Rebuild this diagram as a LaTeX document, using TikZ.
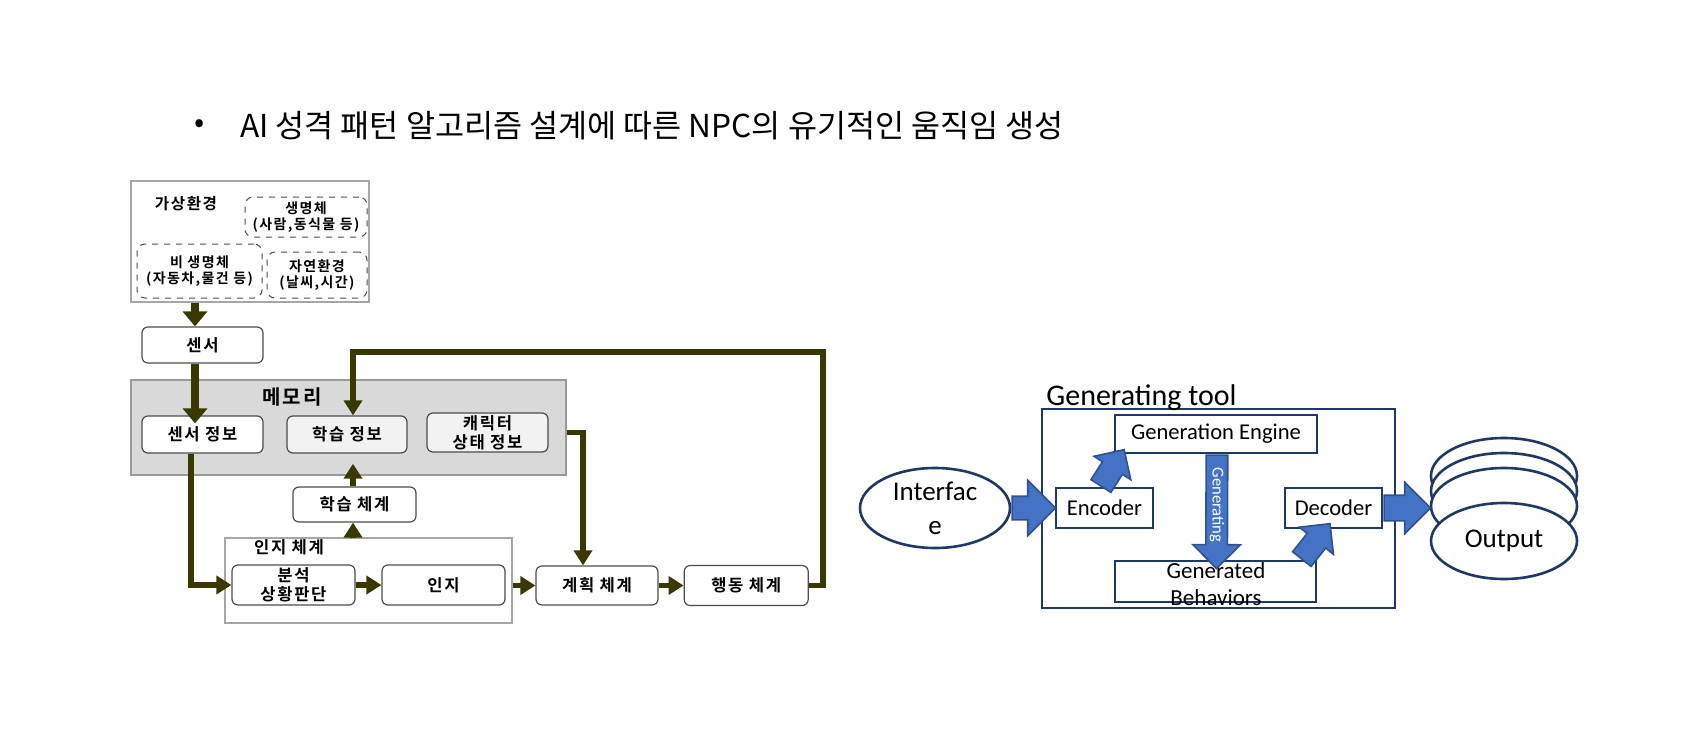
\documentclass[tikz,border=0pt]{standalone}
\usepackage{fontspec}
\setmainfont{Carlito}
\newfontfamily\krfont{Noto Sans CJK KR}[BoldFont={Noto Sans CJK KR Bold}]
\newfontfamily\krwide{Noto Sans CJK KR}[BoldFont={Noto Sans CJK KR Bold}, LetterSpace=10]
\usetikzlibrary{arrows.meta,positioning,shapes.geometric,shapes.arrows,calc}
\definecolor{olivedark}{RGB}{56,56,0}
\definecolor{navy}{RGB}{31,56,100}
\definecolor{blockblue}{RGB}{68,114,196}
\definecolor{blockedge}{RGB}{47,82,143}
\definecolor{memgray}{RGB}{217,217,217}
\definecolor{palegray}{RGB}{242,242,242}
% block arrow between two points, as a rotated single arrow
\newcommand{\blockarrow}[3][]{%
  \path let \p1=(#2), \p2=(#3), \n1={atan2(\y2-\y1,\x2-\x1)}, \n2={veclen(\x2-\x1,\y2-\y1)} in
    node[blockarr, #1, rotate=\n1, minimum height=\n2, anchor=tail] at (\p1) {};}

\begin{document}
\begin{tikzpicture}[x=0.5pt, y=-0.5pt,
    box/.style={rounded corners=3pt, draw=black!70, line width=0.6pt, fill=white, inner sep=0pt, align=center,
      font=\krwide\bfseries\fontsize{8.3}{9.6}\selectfont},
    dashbox/.style={rounded corners=4pt, draw=black!70, dashed, line width=0.5pt, inner sep=0pt, align=center,
      font=\krwide\bfseries\fontsize{7}{8.2}\selectfont},
    frame/.style={draw=black!35, line width=0.7pt, fill=white, inner sep=0pt},
    arr/.style={-{Triangle[width=9pt,length=7.5pt]}, line width=2.6pt, draw=olivedark},
    bigarr/.style={-{Triangle[width=12pt,length=7.5pt]}, line width=3.6pt, draw=olivedark},
    navybox/.style={draw=navy, line width=1.3pt, fill=white, inner sep=0pt, align=center,
      font=\fontsize{11.3}{13.5}\selectfont},
    navyell/.style={ellipse, draw=navy, line width=1.3pt, fill=white, inner sep=0pt, align=center,
      font=\fontsize{13.5}{17}\selectfont},
    blockarr/.style={single arrow, draw=blockedge, fill=blockblue, line width=0.8pt, inner xsep=0pt, inner ysep=0pt,
      text height=5.5pt, text depth=5.5pt, single arrow head extend=7.5pt}
  ]
  \useasboundingbox (0,0) rectangle (1702,739);

  % title
  \node[font=\krfont\fontsize{15}{18}\selectfont] (bullet) at (200,126) {•};
  \node[anchor=west, font=\krfont\fontsize{15.8}{19}\selectfont] (title) at (233,126)
    {AI 성격 패턴 알고리즘 설계에 따른 NPC의 유기적인 움직임 생성};

  % virtual environment
  \node[frame, line width=0.9pt, minimum width=119pt, minimum height=60.5pt] (env) at (250,241.5) {};
  \node[font=\krwide\bfseries\fontsize{7.8}{9}\selectfont] (envname) at (186,204) {가상환경};
  \node[dashbox, minimum width=61pt, minimum height=20pt] (living) at (306,217) {생명체\\(사람,동식물 등)};
  \node[dashbox, minimum width=62.5pt, minimum height=27pt] (nonliving) at (199.5,271) {비 생명체\\(자동차,물건 등)};
  \node[dashbox, minimum width=50pt, minimum height=23pt] (nature) at (317,275) {자연환경\\(날씨,시간)};

  \node[box, minimum width=60.5pt, minimum height=18pt] (sensor) at (202.5,345) {센서};

  % memory
  \node[draw=black!40, fill=memgray, line width=0.7pt, minimum width=217.5pt, minimum height=47.5pt] (memory) at (348.5,427.5) {};
  \node[font=\krwide\bfseries\fontsize{10}{12}\selectfont] (memname) at (292,397) {메모리};
  \node[box, minimum width=60.5pt, minimum height=18.5pt] (sinfo) at (202.5,434.5) {센서 정보};
  \node[box, fill=palegray, minimum width=60pt, minimum height=18.5pt] (linfo) at (347,434.5) {학습 정보};
  \node[box, fill=palegray, minimum width=60.5pt, minimum height=19.5pt] (cinfo) at (487.5,432.5) {캐릭터\\상태 정보};

  \node[box, minimum width=61.5pt, minimum height=17.5pt] (lsys) at (354.5,504.5) {학습 체계};

  % cognition system
  \node[frame, minimum width=143.5pt, minimum height=42.5pt] (cogsys) at (368.5,580.5) {};
  \node[font=\krwide\bfseries\fontsize{8.3}{10}\selectfont] (cogname) at (289,547) {인지 체계};
  \node[box, minimum width=61.5pt, minimum height=20pt] (anal) at (293.5,585) {분석\\상황판단};
  \node[box, minimum width=61.5pt, minimum height=20pt] (recog) at (443.5,585) {인지};
  \node[box, minimum width=61pt, minimum height=19.5pt] (plan) at (597,585.5) {계획 체계};
  \node[box, minimum width=62pt, minimum height=20pt, right=12.5pt of plan] (act) {행동 체계};

  \coordinate (lx) at (195,0);
  \coordinate (mx) at (353,0);
  \coordinate (px) at (583,0);
  \coordinate (fbtop) at (823,352);

  \draw[bigarr] (env.south -| lx) -- (sensor.north -| lx);
  \draw[bigarr] (sensor.south -| lx) -- ([yshift=-4pt]sinfo.north -| lx);
  \draw[arr] ([xshift=-2pt]sinfo.south -| lx) |- (anal.west);
  \draw[arr] (anal) -- (recog);
  \draw[arr] (cogsys.east |- plan) -- (plan.west);
  \draw[arr] (plan) -- (act);
  \draw[arr] (memory.east |- cinfo) -| (plan.north -| px);
  \draw[arr] (cogsys.north -| mx) -- (lsys.south -| mx);
  \draw[arr] (lsys.north -| mx) -- ([yshift=6pt]memory.south -| mx);
  \draw[arr] (act.east) -| (fbtop) -| (linfo.north -| mx);

  % generating tool
  \node[navyell, minimum width=75pt, minimum height=40pt] (interface) at (935,508) {Interfac\\e};
  \node[draw=navy, line width=1.3pt, minimum width=176.5pt, minimum height=99.5pt] (gtool) at (1218.5,508.5) {};
  \node[anchor=base west, inner sep=0pt, font=\fontsize{15}{18}\selectfont] (gtoolname) at (1046,405) {Generating tool};
  \node[navybox, minimum width=101pt, minimum height=19pt] (engine) at (1216,434) {Generation Engine};
  \node[navybox, minimum width=48.5pt, minimum height=20pt] (encoder) at (1104.5,508) {Encoder};
  \node[navybox, minimum width=48.5pt, minimum height=20pt] (decoder) at (1333.5,508) {Decoder};
  \node[navybox, minimum width=100.5pt, minimum height=20.5pt] (genbeh) at (1215.5,581.5) {};
  \node[font=\fontsize{11.5}{13.5}\selectfont, align=center] (genbehtext) at (1216,584) {Generated\\Behaviors};

  % output stack
  \foreach \yy/\nm in {476/out1, 491/out2, 506/out3}
    \node[navyell, minimum width=73pt, minimum height=38pt] (\nm) at (1504,\yy) {};
  \node[navyell, minimum width=73pt, minimum height=38pt] (output) at (1504,541) {Output};

  \blockarrow[single arrow head extend=8pt]{interface.east}{encoder.west}
  \blockarrow[text height=6pt, text depth=6pt, single arrow head extend=6.5pt]{decoder.east}{$(output.west)+(0,-33)$}
  \blockarrow[text height=5pt, text depth=5pt, single arrow head extend=6.5pt]{$(engine.south)+(1,0)$}{$(genbeh.north)+(1,8)$}
  \blockarrow[text height=5.5pt, text depth=5.5pt, single arrow head extend=5pt]{$(encoder.north)+(-4,0)$}{$(engine.south west)+(10,-4)$}
  \blockarrow[text height=5.5pt, text depth=5.5pt, single arrow head extend=5pt]{$(genbeh.north east)+(-16,0)$}{$(decoder.south)+(-4,-5)$}
  \node[rotate=-90, text=white, inner sep=0pt, font=\fontsize{8.3}{10}\selectfont] (genlabel) at (1217,505) {Generating};
\end{tikzpicture}
\end{document}
